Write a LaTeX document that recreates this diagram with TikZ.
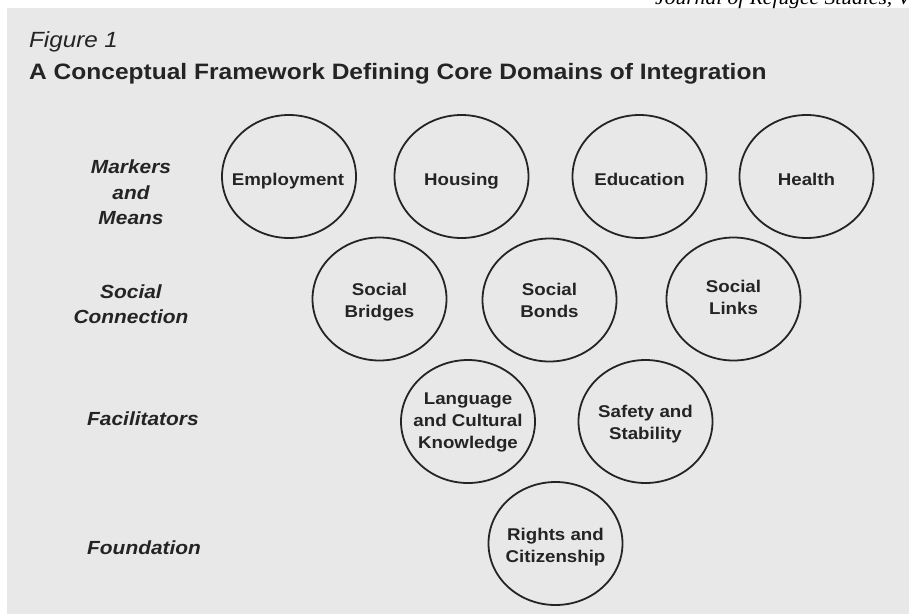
\documentclass[tikz,border=0pt]{standalone}
\usepackage{fontspec}
\setmainfont{Liberation Sans}[FakeStretch=1.1]
\newfontfamily\hdrfont{Liberation Serif}[FakeStretch=1.1]
\usetikzlibrary{shapes.geometric}
\definecolor{ink}{RGB}{36,36,36}
\definecolor{paper}{RGB}{232,232,232}
\tikzset{
  dom/.style={ellipse, draw=ink, line width=1.8pt, minimum width=134pt, minimum height=123pt, inner sep=0pt},
  domtext/.style={text=ink, font=\bfseries\fontsize{17}{22}\selectfont, align=center, inner sep=0pt},
  rowlab/.style={text=ink, font=\bfseries\itshape\fontsize{19}{25.5}\selectfont, align=center, inner sep=0pt},
}
\begin{document}
\begin{tikzpicture}[x=1pt,y=-1pt]
\useasboundingbox (0,0) rectangle (909,614);
\clip (0,0) rectangle (909,614);
\fill[white] (0,0) rectangle (909,614);
\fill[paper] (7,7.5) rectangle (909,614);
% running header (cut at top)
\node[anchor=base west, inner sep=0pt, text=black, font=\hdrfont\itshape\fontsize{19.6}{20}\selectfont] (hdr) at (655,4.5) {Journal of Refugee Studies, V};
% titles
\node[anchor=base west, inner sep=0pt, text=ink, font=\itshape\fontsize{22}{24}\selectfont] (fig) at (29,47) {Figure 1};
\node[anchor=base west, inner sep=0pt, text=ink, font=\bfseries\fontsize{22.3}{24}\selectfont] (title) at (29,79) {A Conceptual Framework Defining Core Domains of Integration};
% row labels
\node[rowlab] (rmm) at (131,192.5) {Markers\\and\\Means};
\node[rowlab] (rsc) at (131,304) {Social\\Connection};
\node[rowlab, anchor=base west] (rfa) at (87,425) {Facilitators};
\node[rowlab, anchor=base west] (rfo) at (87,554) {Foundation};
% markers and means
\node[dom] (emp) at (289,176.5) {};
\node[dom] (hou) at (461.5,176.5) {};
\node[dom] (edu) at (639.5,176.5) {};
\node[dom] (hea) at (806.5,176.5) {};
\node[domtext, anchor=base] (empt) at (288,185) {Employment};
\node[domtext, anchor=base] (hout) at (461.5,185) {Housing};
\node[domtext, anchor=base] (edut) at (639.5,185) {Education};
\node[domtext, anchor=base] (heat) at (806.5,185) {Health};
% social connection
\node[dom] (sbr) at (379.5,299) {};
\node[dom] (sbo) at (549.5,300) {};
\node[dom] (sli) at (733.5,299) {};
\node[domtext] (sbrt) at (379.5,302.6) {Social\\Bridges};
\node[domtext] (sbot) at (549.5,300.8) {Social\\Bonds};
\node[domtext] (slit) at (733.5,297.5) {Social\\Links};
% facilitators
\node[dom] (lan) at (468,421.5) {};
\node[dom] (saf) at (645.5,421.5) {};
\node[domtext] (lant) at (468,422.7) {Language\\and Cultural\\Knowledge};
\node[domtext] (saft) at (645.5,423.6) {Safety and\\Stability};
% foundation
\node[dom] (rig) at (555.5,543.5) {};
\node[domtext] (rigt) at (555.5,546.6) {Rights and\\Citizenship};
\end{tikzpicture}
\end{document}
